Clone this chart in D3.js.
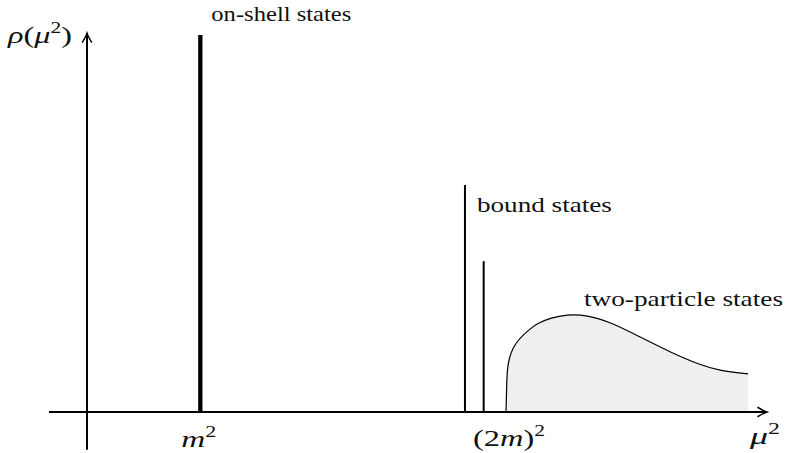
<!DOCTYPE html>
<html>
<head>
<meta charset="utf-8">
<script src="https://cdn.jsdelivr.net/npm/d3@7"></script>
<style>
  html, body { margin: 0; padding: 0; background: #fff; }
  svg { display: block; }
</style>
</head>
<body>
<svg id="chart" width="785" height="453"></svg>
<script>
// Spectral density sketch: single-particle pole, bound states, two-particle continuum.
// Units on both axes are schematic (μ² along x, ρ along y).

const onShellPos = [1.0];          // m²
const onShellHeight = [1.0];
const boundPos = [3.335, 3.50];
const boundHeight = [0.602, 0.40];

// Two-particle continuum starting at threshold (2m)²
const contX = [3.697, 3.697, 3.700, 3.703, 3.709, 3.728, 3.759, 3.799, 3.847, 3.909, 3.971, 4.085, 4.235, 4.412, 4.615, 4.880, 5.144, 5.409, 5.585, 5.833, 5.833];
const contY = [0.000, 0.000, 0.032, 0.072, 0.117, 0.146, 0.170, 0.188, 0.204, 0.220, 0.235, 0.249, 0.259, 0.257, 0.239, 0.199, 0.159, 0.125, 0.109, 0.101, 0.101];

const tickPos = [1.0, 3.697];
const tickLabels = [["m", "2"], ["(2", "m", ")", "2"]];
const xAxisExtent = [-0.335, 6.0];
const yAxisExtent = [-0.1, 1.005];

const FONT = "Liberation Serif, DejaVu Serif, Noto Serif, FreeSerif, Times, serif";

const svg = d3.select("#chart");
const x = d3.scaleLinear().domain([0, 6]).range([87, 767]);
const y = d3.scaleLinear().domain([0, 1]).range([412, 35]);

const cont = contX.map((v, i) => ({ x: v, y: contY[i] }));
const curve = d3.curveBasis;

// Continuum fill
svg.append("path")
  .datum(cont)
  .attr("fill", "#efefef")
  .attr("d", d3.area().x(d => x(d.x)).y0(y(0)).y1(d => y(d.y)).curve(curve));

// Axes
function arrowHead(g, tx, ty, angle) {
  g.append("path")
    .attr("transform", `translate(${tx},${ty}) rotate(${angle})`)
    .attr("d", "M-9,-4.5 Q-3,-1 0,0 Q-3,1 -9,4.5")
    .attr("fill", "none")
    .attr("stroke", "#000")
    .attr("stroke-width", 1.5)
    .attr("stroke-linecap", "round");
}
const axes = svg.append("g");
axes.append("line")
  .attr("x1", x(xAxisExtent[0])).attr("x2", x(xAxisExtent[1]))
  .attr("y1", y(0)).attr("y2", y(0))
  .attr("stroke", "#000").attr("stroke-width", 2);
arrowHead(axes, x(xAxisExtent[1]), y(0), 0);
axes.append("line")
  .attr("x1", x(0)).attr("x2", x(0))
  .attr("y1", y(yAxisExtent[0])).attr("y2", y(yAxisExtent[1]))
  .attr("stroke", "#000").attr("stroke-width", 2);
arrowHead(axes, x(0), y(yAxisExtent[1]), -90);

// On-shell pole
svg.selectAll("line.pole")
  .data(onShellPos.map((p, i) => ({ p, h: onShellHeight[i] })))
  .join("line").attr("class", "pole")
  .attr("x1", d => x(d.p)).attr("x2", d => x(d.p))
  .attr("y1", y(0)).attr("y2", d => y(d.h))
  .attr("stroke", "#000").attr("stroke-width", 4.3);

// Bound states
svg.selectAll("line.bound")
  .data(boundPos.map((p, i) => ({ p, h: boundHeight[i] })))
  .join("line").attr("class", "bound")
  .attr("x1", d => x(d.p)).attr("x2", d => x(d.p))
  .attr("y1", y(0)).attr("y2", d => y(d.h))
  .attr("stroke", "#000").attr("stroke-width", 2);

// Continuum outline
svg.append("path")
  .datum(cont)
  .attr("fill", "none")
  .attr("stroke", "#000")
  .attr("stroke-width", 1.2)
  .attr("d", d3.line().x(d => x(d.x)).y(d => y(d.y)).curve(curve));

// Text labels
function label(txt, px, py, len) {
  svg.append("text").attr("x", px).attr("y", py)
    .attr("font-family", FONT).attr("font-size", 22).attr("fill", "#111")
    .attr("textLength", len).attr("lengthAdjust", "spacingAndGlyphs")
    .text(txt);
}
label("on-shell states", x(onShellPos[0]) + 11, 21, 140);
label("bound states", x(boundPos[0]) + 12, 212, 135);
label("two-particle states", 584, 306, 199);

// Math labels
function mathLabel(parts, px, py, len) {
  const t = svg.append("text").attr("x", px).attr("y", py)
    .attr("font-family", FONT).attr("font-size", 24).attr("fill", "#111")
    .attr("textLength", len).attr("lengthAdjust", "spacingAndGlyphs");
  parts.forEach(p => {
    const s = t.append("tspan").text(p.t);
    if (p.i) s.attr("font-style", "italic");
    if (p.sup) s.attr("font-size", 16).attr("baseline-shift", "10");
  });
  return t;
}
mathLabel([{ t: "ρ", i: true }, { t: "(" }, { t: "μ", i: true }, { t: "2", sup: true }, { t: ")" }], 8, 43, 64);
mathLabel([{ t: tickLabels[0][0], i: true }, { t: tickLabels[0][1], sup: true }], x(tickPos[0]) - 19, 447, 35);
mathLabel([{ t: tickLabels[1][0] }, { t: tickLabels[1][1], i: true }, { t: tickLabels[1][2] }, { t: tickLabels[1][3], sup: true }], x(tickPos[1]) - 33, 446, 72);
mathLabel([{ t: "μ", i: true }, { t: "2", sup: true }], 750, 444, 30);
</script>
</body>
</html>
